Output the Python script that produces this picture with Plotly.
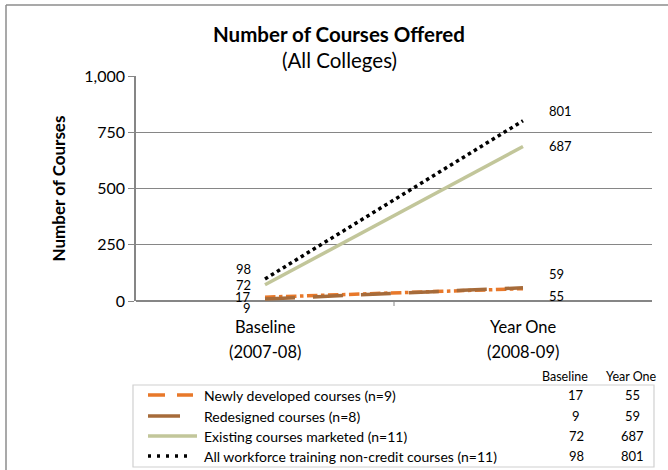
import plotly.graph_objects as go

categories = ["Baseline<br>(2007-08)", "Year One<br>(2008-09)"]
series_names = [
    "Newly developed courses (n=9)",
    "Redesigned courses (n=8)",
    "Existing courses marketed (n=11)",
    "All workforce training non-credit courses (n=11)",
]
newly = [17, 55]
redesigned = [9, 59]
existing = [72, 687]
all_courses = [98, 801]
y_ticks = [0, 250, 500, 750, 1000]
y_tick_labels = ["0", "250", "500", "750", "1,000"]
table_headers = ["Baseline", "Year One"]

FONT = "Lato, 'Open Sans', sans-serif"
colors = ["#E8782A", "#A66B3A", "#C2C69A", "#000000"]
dashes = ["dashdot", "30px,18px", "solid", "dot"]
values = [newly, redesigned, existing, all_courses]

L, R, T, B = 136, 16, 76, 169
W, H = 668, 470
pw, ph = W - L - R, H - T - B

def px(x):
    return (x - L) / pw

def py(y):
    return (H - B - y) / ph

fig = go.Figure()
xs = [0, 1]
for name, vals, c, d in zip(series_names, values, colors, dashes):
    fig.add_trace(go.Scatter(x=xs, y=vals, mode="lines", name=name,
                             line=dict(color=c, width=3.5, dash=d),
                             showlegend=False, hoverinfo="skip"))

# data labels
offsets_left = [0, -9, 0, 10]
offsets_right = [-7, 14, 0, 10]
ann = []
for vals, ol, orr in zip(values, offsets_left, offsets_right):
    ann.append(dict(x=0, y=vals[0], text=str(vals[0]), xref="x", yref="y", showarrow=False,
                    xanchor="right", yanchor="middle", xshift=-12, yshift=ol,
                    font=dict(size=13, color="#000", family=FONT)))
    ann.append(dict(x=1, y=vals[1], text=str(vals[1]), xref="x", yref="y", showarrow=False,
                    xanchor="left", yanchor="middle", xshift=24, yshift=orr,
                    font=dict(size=13, color="#000", family=FONT)))

# category labels (two lines each)
for xi, cat in zip(xs, categories):
    for line_text, yy in zip(cat.split("<br>"), [327, 352]):
        ann.append(dict(x=xi, y=py(yy), xref="x", yref="paper", showarrow=False,
                        xanchor="center", yanchor="middle", text=line_text,
                        font=dict(size=16.5, family=FONT, color="#000")))

# titles
ann.append(dict(x=px(339), y=py(34), xref="paper", yref="paper", showarrow=False,
                xanchor="center", yanchor="middle",
                text="<b>Number of Courses Offered</b>", font=dict(size=20.5, family=FONT, color="#000")))
ann.append(dict(x=px(339), y=py(60), xref="paper", yref="paper", showarrow=False,
                xanchor="center", yanchor="middle",
                text="(All Colleges)", font=dict(size=20.5, family=FONT, color="#000")))

# legend table
legend_rows_y = [395, 416, 436, 456]
sample_ends = [193, 180, 197, 193]
shapes = []
shapes.append(dict(type="rect", xref="paper", yref="paper", x0=px(133), x1=px(654), y0=py(385), y1=py(467),
                   line=dict(color="#D0D0D0", width=1.2), fillcolor="rgba(0,0,0,0)"))
for i, (name, vals, c, d) in enumerate(zip(series_names, values, colors, dashes)):
    yy = py(legend_rows_y[i])
    if d == "dashdot":
        ldash = "17px,12px"
    elif d == "dot":
        ldash = "3px,6px"
    else:
        ldash = "solid"
    shapes.append(dict(type="line", xref="paper", yref="paper", x0=px(148), x1=px(sample_ends[i]), y0=yy, y1=yy,
                       line=dict(color=c, width=3.5, dash=ldash)))
    ann.append(dict(x=px(202), y=yy, xref="paper", yref="paper", showarrow=False,
                    xanchor="left", yanchor="middle",
                    text=name, font=dict(size=14, family=FONT, color="#000")))
    ann.append(dict(x=px(576), y=yy, xref="paper", yref="paper", showarrow=False,
                    xanchor="center", yanchor="middle",
                    text=str(vals[0]), font=dict(size=13, family=FONT, color="#000")))
    ann.append(dict(x=px(632), y=yy, xref="paper", yref="paper", showarrow=False,
                    xanchor="center", yanchor="middle",
                    text=str(vals[1]), font=dict(size=13, family=FONT, color="#000")))
for hx, h in zip([565, 631], table_headers):
    ann.append(dict(x=px(hx), y=py(376), xref="paper", yref="paper", showarrow=False,
                    xanchor="center", yanchor="middle",
                    text=h, font=dict(size=12.5, family=FONT, color="#000")))

# outer frame (left and top)
shapes.append(dict(type="line", xref="paper", yref="paper", x0=px(6), x1=px(6), y0=py(5), y1=py(475),
                   line=dict(color="#8C8C8C", width=1.5)))
shapes.append(dict(type="line", xref="paper", yref="paper", x0=px(6), x1=px(672), y0=py(5), y1=py(5),
                   line=dict(color="#8C8C8C", width=1.5)))
# middle category tick
shapes.append(dict(type="line", xref="x", yref="paper", x0=0.5, x1=0.5, y0=0, y1=py(306),
                   line=dict(color="#868686", width=1)))

fig.update_layout(
    width=W, height=H, margin=dict(l=L, r=R, t=T, b=B, autoexpand=False),
    paper_bgcolor="white", plot_bgcolor="white",
    font=dict(family=FONT, size=14, color="#000"),
    annotations=ann, shapes=shapes, showlegend=False,
    xaxis=dict(range=[-0.5, 1.5], tickvals=xs, ticktext=["", ""], showgrid=False,
               zeroline=False, showline=False, ticks="", showticklabels=False),
    yaxis=dict(range=[0, 1000], tickvals=y_ticks, ticktext=y_tick_labels, showgrid=True,
               gridcolor="#868686", gridwidth=1, zeroline=True, zerolinecolor="#868686", zerolinewidth=1.5,
               showline=True, linecolor="#868686", linewidth=1.5, ticks="outside", ticklen=6,
               tickcolor="#868686", tickfont=dict(size=16, family=FONT),
               title=dict(text="<b>Number of Courses</b>", font=dict(size=17, family=FONT), standoff=14)),
)
fig.write_html("out.html", config={"displayModeBar": False},
               post_script="document.body.style.margin='0';document.body.style.padding='0';")
